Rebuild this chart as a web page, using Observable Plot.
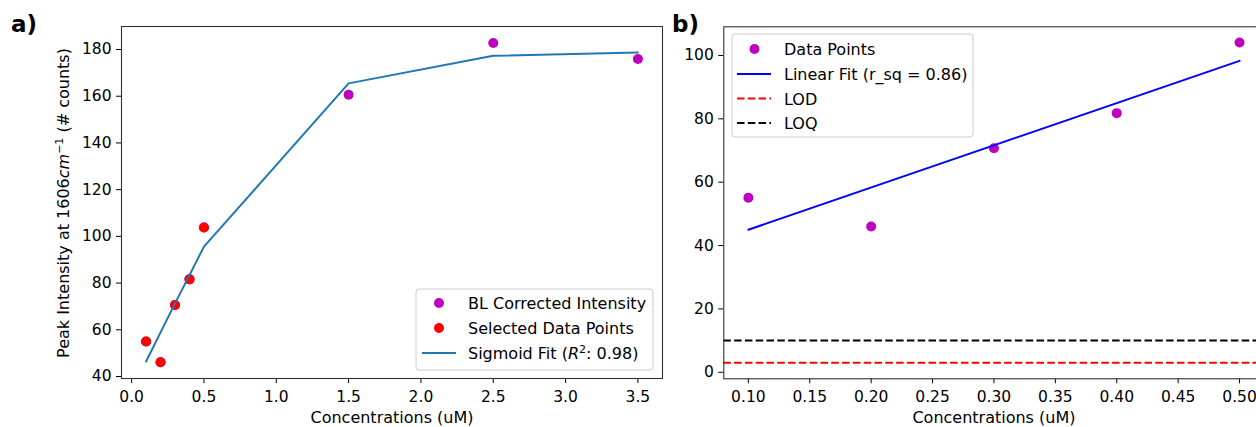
<!DOCTYPE html>
<html>
<head>
<meta charset="utf-8">
<script src="https://cdn.jsdelivr.net/npm/d3@7"></script>
<script src="https://cdn.jsdelivr.net/npm/@observablehq/plot@0.6"></script>
<style>
  html, body { margin: 0; padding: 0; background: #fff; }
  #wrap { position: relative; width: 1256px; height: 427px; overflow: hidden; background: #fff; }
  #wrap svg { position: absolute; top: 0; background: transparent; overflow: visible; }
</style>
</head>
<body>
<div id="wrap"></div>
<script>
// ---- Panel a data ----
const concA = [0.1, 0.2, 0.3, 0.4, 0.5, 1.5, 2.5, 3.5];
const intensityA = [55.0, 46.1, 70.6, 81.6, 103.8, 160.6, 182.8, 175.9];
const selectedConc = [0.1, 0.2, 0.3, 0.4, 0.5];
const selectedIntensity = [55.0, 46.1, 70.6, 81.6, 103.8];
const sigmoidFit = [46.4, 58.9, 71.3, 83.4, 95.6, 165.5, 177.3, 178.7];
const xTicksA = [0.0, 0.5, 1.0, 1.5, 2.0, 2.5, 3.0, 3.5];
const yTicksA = [40, 60, 80, 100, 120, 140, 160, 180];

// ---- Panel b data ----
const concB = [0.1, 0.2, 0.3, 0.4, 0.5];
const intensityB = [55.1, 46.0, 70.7, 81.8, 104.1];
const fitConcB = [0.1, 0.5];
const fitB = [45.0, 98.3];
const LOD = 3.0;
const LOQ = 10.0;
const xTicksB = [0.10, 0.15, 0.20, 0.25, 0.30, 0.35, 0.40, 0.45, 0.50];
const yTicksB = [0, 20, 40, 60, 80, 100];

const FONT = "DejaVu Sans, sans-serif";
const FS = 16;      // labels & legend
const TFS = 15.5;   // tick labels
const wrap = document.getElementById("wrap");

const ptsA = concA.map((x, i) => ({x, y: intensityA[i]}));
const selA = selectedConc.map((x, i) => ({x, y: selectedIntensity[i]}));
const fitA = concA.map((x, i) => ({x, y: sigmoidFit[i]}));

const plotA = Plot.plot({
  width: 672, height: 427,
  marginLeft: 121, marginRight: 10, marginTop: 26, marginBottom: 49,
  style: {fontFamily: FONT, fontSize: TFS + "px", color: "#000", background: "transparent"},
  x: {domain: [-0.07, 3.67]},
  y: {domain: [39.15, 189.85]},
  marks: [
    Plot.dot(ptsA, {x: "x", y: "y", r: 5, fill: "#bf00bf", stroke: "none"}),
    Plot.dot(selA, {x: "x", y: "y", r: 5, fill: "#ff0000", stroke: "none"}),
    Plot.line(fitA, {x: "x", y: "y", stroke: "#1f77b4", strokeWidth: 2}),
    Plot.axisX({ticks: xTicksA, tickFormat: d => d.toFixed(1), tickSize: 5, tickPadding: 7, label: null, fontSize: TFS}),
    Plot.axisY({ticks: yTicksA, tickFormat: d => String(d), tickSize: 5, tickPadding: 5, label: null, fontSize: TFS}),
    Plot.text(["Concentrations (uM)"], {text: d => d, frameAnchor: "bottom", dy: 44, fontSize: FS}),
    Plot.frame({stroke: "#333", strokeWidth: 1.1})
  ]
});
plotA.style.left = "0px";
wrap.appendChild(plotA);

const ptsB = concB.map((x, i) => ({x, y: intensityB[i]}));
const fitBData = fitConcB.map((x, i) => ({x, y: fitB[i]}));

const plotB = Plot.plot({
  width: 640, height: 427,
  marginLeft: 63.3, marginRight: 36.4, marginTop: 26.3, marginBottom: 48.7,
  style: {fontFamily: FONT, fontSize: TFS + "px", color: "#000", background: "transparent"},
  x: {domain: [0.08, 0.52]},
  y: {domain: [-2.05, 109.05]},
  marks: [
    Plot.dot(ptsB, {x: "x", y: "y", r: 5, fill: "#bf00bf", stroke: "none"}),
    Plot.line(fitBData, {x: "x", y: "y", stroke: "#0000ff", strokeWidth: 2}),
    Plot.ruleY([LOD], {stroke: "#ff0000", strokeWidth: 2, strokeDasharray: "7.5,3.3"}),
    Plot.ruleY([LOQ], {stroke: "#000000", strokeWidth: 2, strokeDasharray: "7.5,3.3"}),
    Plot.axisX({ticks: xTicksB, tickFormat: d => d.toFixed(2), tickSize: 5, tickPadding: 7, label: null, fontSize: TFS}),
    Plot.axisY({ticks: yTicksB, tickFormat: d => String(d), tickSize: 5, tickPadding: 5, label: null, fontSize: TFS}),
    Plot.text(["Concentrations (uM)"], {text: d => d, frameAnchor: "bottom", dy: 44, fontSize: FS}),
    Plot.frame({stroke: "#333", strokeWidth: 1.1})
  ]
});
plotB.style.left = "660px";
wrap.appendChild(plotB);

// ---- Decorations: panel titles, y label, legends ----
function addText(svg, x, y, opts = {}) {
  const t = d3.select(svg).append("text")
    .attr("x", x).attr("y", y)
    .attr("font-family", FONT)
    .attr("font-size", opts.size || FS)
    .attr("text-anchor", opts.anchor || "start")
    .attr("fill", "#000");
  if (opts.weight) t.attr("font-weight", opts.weight);
  return t;
}

addText(plotA, 11, 32, {size: 23, weight: "bold"}).text("a)");
addText(plotB, 12, 32, {size: 23, weight: "bold"}).text("b)");

// y label panel a
{
  const t = d3.select(plotA).append("text")
    .attr("transform", "translate(69,203) rotate(-90)")
    .attr("text-anchor", "middle")
    .attr("font-family", FONT).attr("font-size", FS).attr("fill", "#000");
  t.append("tspan").text("Peak Intensity at 1606");
  t.append("tspan").attr("font-style", "italic").text("cm");
  t.append("tspan").attr("dy", -6).attr("font-size", 11).text("\u22121");
  t.append("tspan").attr("dy", 6).text(" (# counts)");
}

function legendBox(svg, x, y, w, h) {
  d3.select(svg).append("rect")
    .attr("x", x).attr("y", y).attr("width", w).attr("height", h)
    .attr("rx", 3).attr("fill", "#fff").attr("fill-opacity", 0.8)
    .attr("stroke", "#cccccc").attr("stroke-width", 1);
}
function legendDot(svg, cx, cy, color) {
  d3.select(svg).append("circle").attr("cx", cx).attr("cy", cy).attr("r", 5).attr("fill", color);
}
function legendLine(svg, x1, x2, y, color, dash) {
  const l = d3.select(svg).append("line")
    .attr("x1", x1).attr("x2", x2).attr("y1", y).attr("y2", y)
    .attr("stroke", color).attr("stroke-width", 2);
  if (dash) l.attr("stroke-dasharray", dash);
}

// Legend a
legendBox(plotA, 416, 289, 237, 81);
legendDot(plotA, 439, 303, "#bf00bf");
addText(plotA, 468, 309).text("BL Corrected Intensity");
legendDot(plotA, 439, 328, "#ff0000");
addText(plotA, 468, 334).text("Selected Data Points");
legendLine(plotA, 422, 456, 353, "#1f77b4");
{
  const t = addText(plotA, 468, 359);
  t.append("tspan").text("Sigmoid Fit (");
  t.append("tspan").attr("font-style", "italic").text("R");
  t.append("tspan").attr("dy", -6).attr("font-size", 11).text("2");
  t.append("tspan").attr("dy", 6).text(": 0.98)");
}

// Legend b (coordinates relative to panel b svg, offset 660)
legendBox(plotB, 72, 34, 241, 103);
legendDot(plotB, 94.5, 49, "#bf00bf");
addText(plotB, 124, 55).text("Data Points");
legendLine(plotB, 77, 111, 74, "#0000ff");
addText(plotB, 124, 80).text("Linear Fit (r_sq = 0.86)");
legendLine(plotB, 77, 111, 98.5, "#ff0000", "7.5,3.3");
addText(plotB, 124, 104.5).text("LOD");
legendLine(plotB, 77, 111, 123, "#000000", "7.5,3.3");
addText(plotB, 124, 129).text("LOQ");
</script>
</body>
</html>
